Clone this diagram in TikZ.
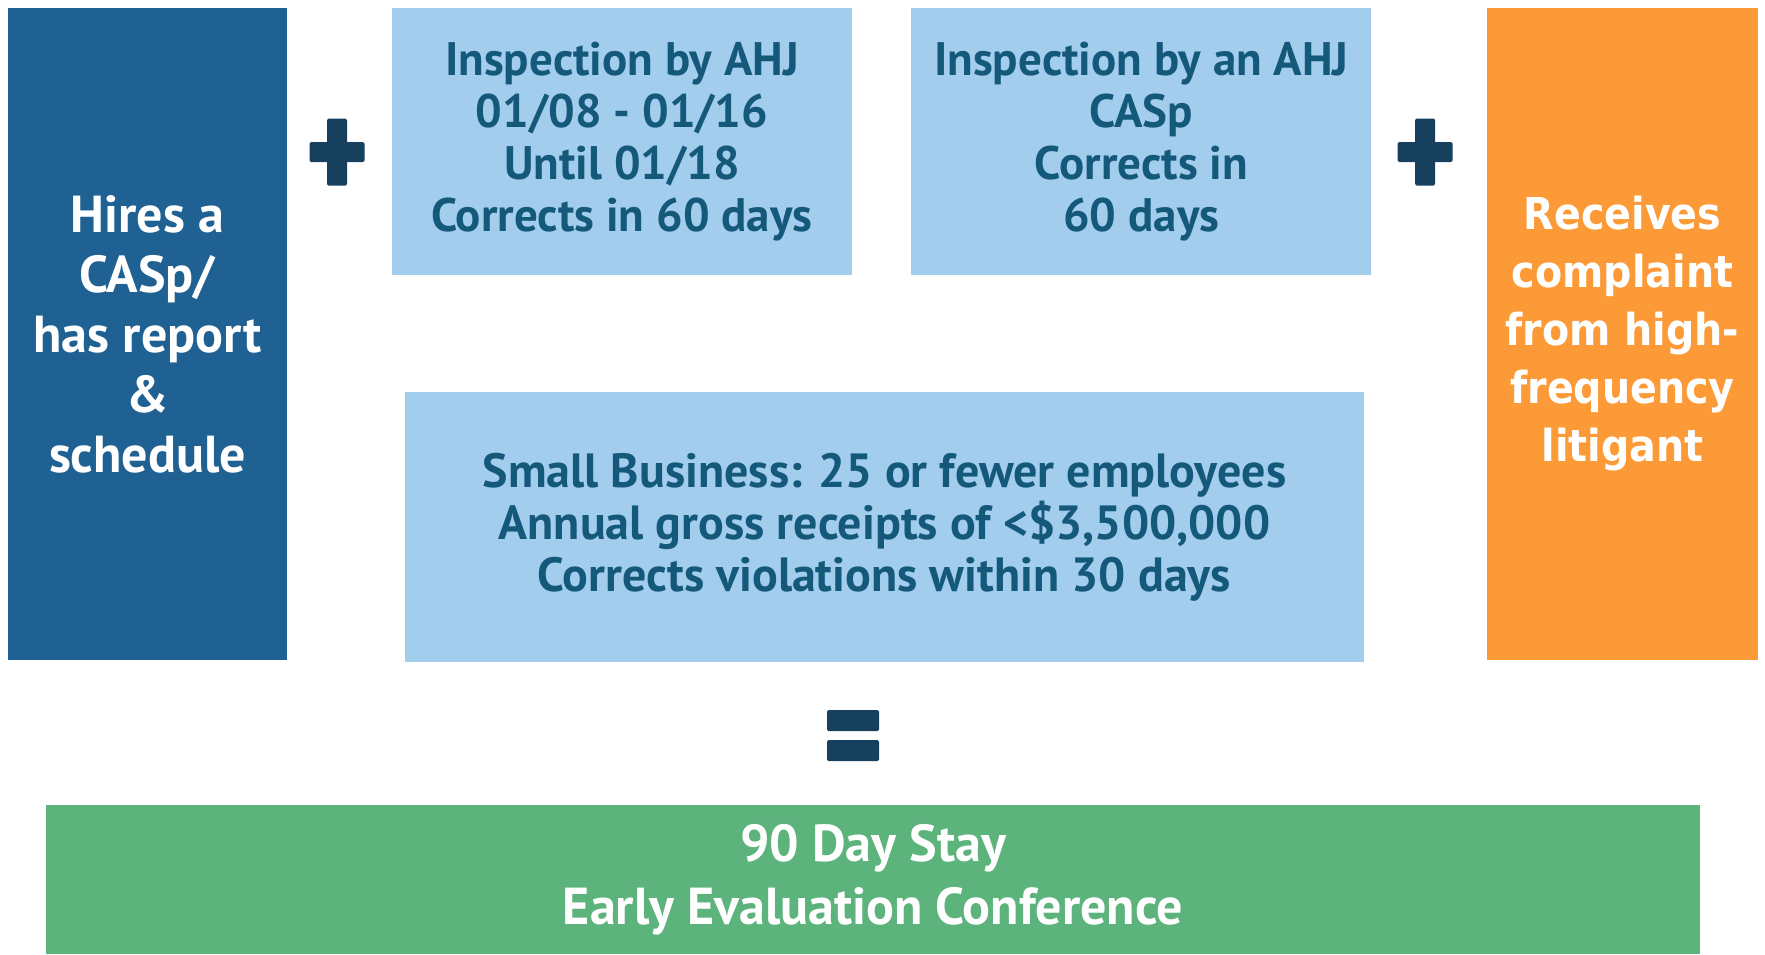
\documentclass[tikz,border=0pt]{standalone}
\usepackage{fontspec}
\setmainfont{PT Sans}
\newfontfamily\litfont[FakeStretch=0.9]{DejaVu Sans}
\usetikzlibrary{positioning}
\definecolor{StayNavy}{HTML}{1F6192}
\definecolor{StaySky}{HTML}{A3CDED}
\definecolor{StayInk}{HTML}{15597A}
\definecolor{StayOrange}{HTML}{FD9A38}
\definecolor{StayGreen}{HTML}{5DB37C}
\definecolor{StayOp}{HTML}{17405F}
\tikzset{
  stay req/.style={
    fill=StaySky,
    text=StayInk,
    align=center,
    inner sep=0pt,
    font=\bfseries\fontsize{47}{52}\selectfont
  },
  stay cond/.style={
    fill=StayNavy,
    text=white,
    align=center,
    inner sep=0pt,
    minimum width=279pt,
    minimum height=652pt,
    font=\bfseries\fontsize{52}{60}\selectfont
  },
  stay trigger/.style={
    fill=StayOrange,
    text=white,
    align=center,
    inner sep=0pt,
    minimum width=271pt,
    minimum height=652pt,
    font=\litfont\bfseries\fontsize{44}{58}\selectfont
  },
  stay result/.style={
    fill=StayGreen,
    text=white,
    align=center,
    inner sep=0pt,
    minimum width=1654pt,
    minimum height=149pt,
    font=\bfseries\fontsize{52}{63}\selectfont
  },
  stay op/.style={fill=StayOp,rounded corners=1.5pt}
}
\begin{document}
\begin{tikzpicture}[x=1pt,y=-1pt]
  \useasboundingbox (0,0) rectangle (1765,954);
  \node[stay cond] (casp) at (147.5,334) {Hires a\\CASp/\\has report\\\&\\schedule};
  \node[stay req,minimum width=460pt,minimum height=267pt] (ahj) at (622,141.5)
    {Inspection by AHJ\\01/08 - 01/16\\Until 01/18\\Corrects in 60 days};
  \node[stay req,minimum width=460pt,minimum height=267pt,right=59pt of ahj] (ahjcasp)
    {Inspection by an AHJ\\CASp\\Corrects in\\60 days};
  \node[stay trigger] (litigant) at (1622.5,334) {Receives\\complaint\\from high-\\frequency\\litigant};
  \node[stay req,minimum width=959pt,minimum height=270pt,font=\bfseries\fontsize{48}{52}\selectfont]
    (smallbiz) at (884.5,527)
    {Small Business: 25 or fewer employees\\Annual gross receipts of <\$3,500,000\\Corrects violations within 30 days};
  \node[stay result] (stay) at (873,879.5) {90 Day Stay\\Early Evaluation Conference};

  % plus signs
  \foreach \cx in {337,1425} {
    \fill[stay op] (\cx-27.5,142) rectangle (\cx+27.5,162);
    \fill[stay op] (\cx-10,118.5) rectangle (\cx+10,185.5);
  }
  % equals sign
  \fill[stay op] (827,710) rectangle (879,731);
  \fill[stay op] (827,740) rectangle (879,761);
\end{tikzpicture}
\end{document}
